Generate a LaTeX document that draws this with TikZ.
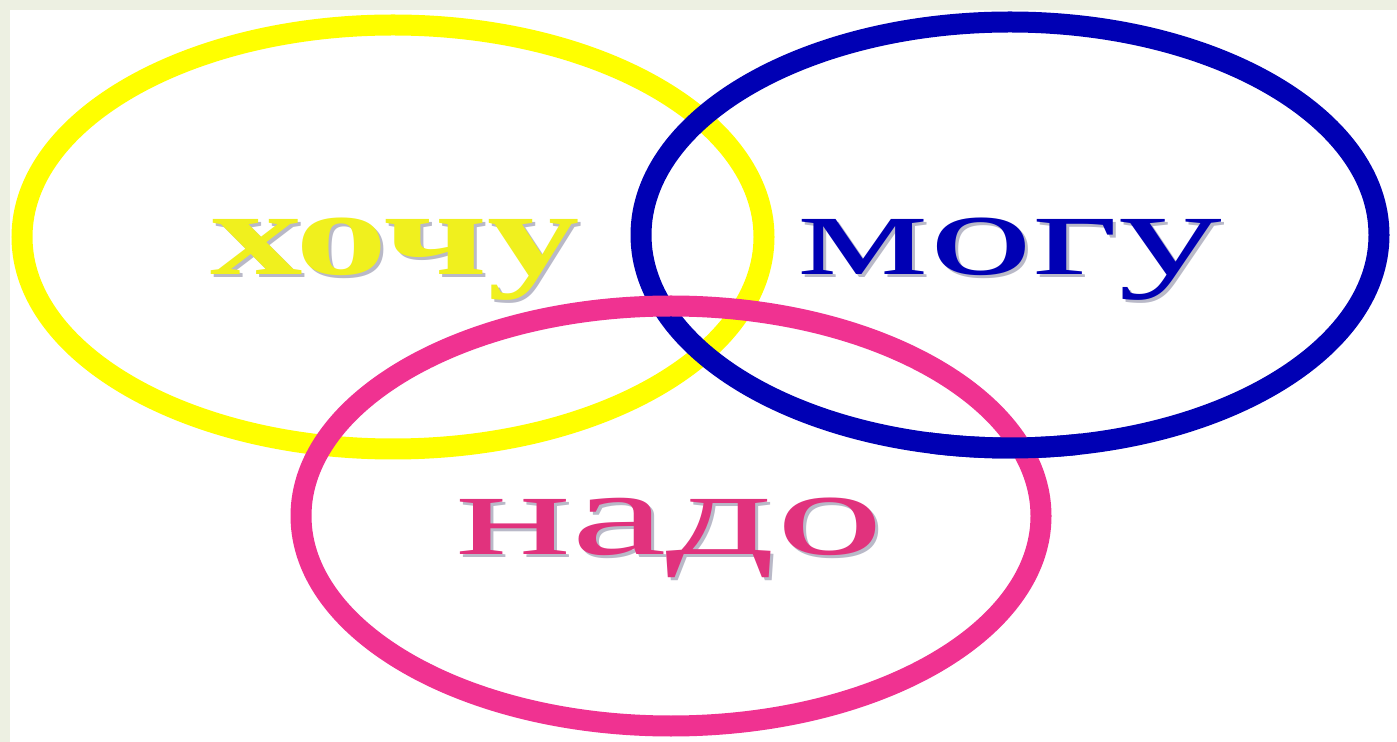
\documentclass[tikz,border=0pt]{standalone}
\usepackage{fontspec}
\setmainfont{Liberation Serif}
\definecolor{bordergray}{RGB}{237,240,226}
\definecolor{ylw}{RGB}{255,255,0}
\definecolor{ylwtext}{RGB}{240,240,30}
\definecolor{blu}{RGB}{0,0,180}
\definecolor{pnk}{RGB}{240,50,145}
\definecolor{pnktext}{RGB}{225,50,125}
\definecolor{shadowgray}{RGB}{185,185,200}
\begin{document}
\begin{tikzpicture}[x=0.5pt,y=-0.5pt,
  ring/.style={line width=10.5pt},
  word/.style={anchor=base, inner sep=0pt, font=\fontsize{60}{60}\selectfont},
  ]
\fill[bordergray] (0,0) rectangle (1397,742);
\fill[white] (10,10) rectangle (1397,742);
\useasboundingbox (0,0) rectangle (1397,742);
% rings
\draw[ring, ylw] (393,237) ellipse [x radius=371, y radius=212];
\draw[ring, blu] (1010,235) ellipse [x radius=369, y radius=213];
\draw[ring, pnk] (671,516) ellipse [x radius=370, y radius=210];
% blue passes over pink at the lower right crossing
\begin{scope}
  \clip (930,410) rectangle (1080,480);
  \draw[ring, blu] (1010,235) ellipse [x radius=369, y radius=213];
\end{scope}
% words with shadows
\node[word, shadowgray, xscale=1.54, font=\fontsize{60}{60}\selectfont\bfseries] (hs) at (398,278) {хочу};
\node[word, ylwtext, xscale=1.54, font=\fontsize{60}{60}\selectfont\bfseries] (h) at (395,275) {хочу};
\node[word, shadowgray, xscale=1.73] (ms) at (1013,278) {могу};
\node[word, blu, xscale=1.73] (m) at (1010,275) {могу};
\node[word, shadowgray, xscale=1.79] (ns) at (673,558) {надо};
\node[word, pnktext, xscale=1.79] (n) at (670,555) {надо};
\end{tikzpicture}
\end{document}
